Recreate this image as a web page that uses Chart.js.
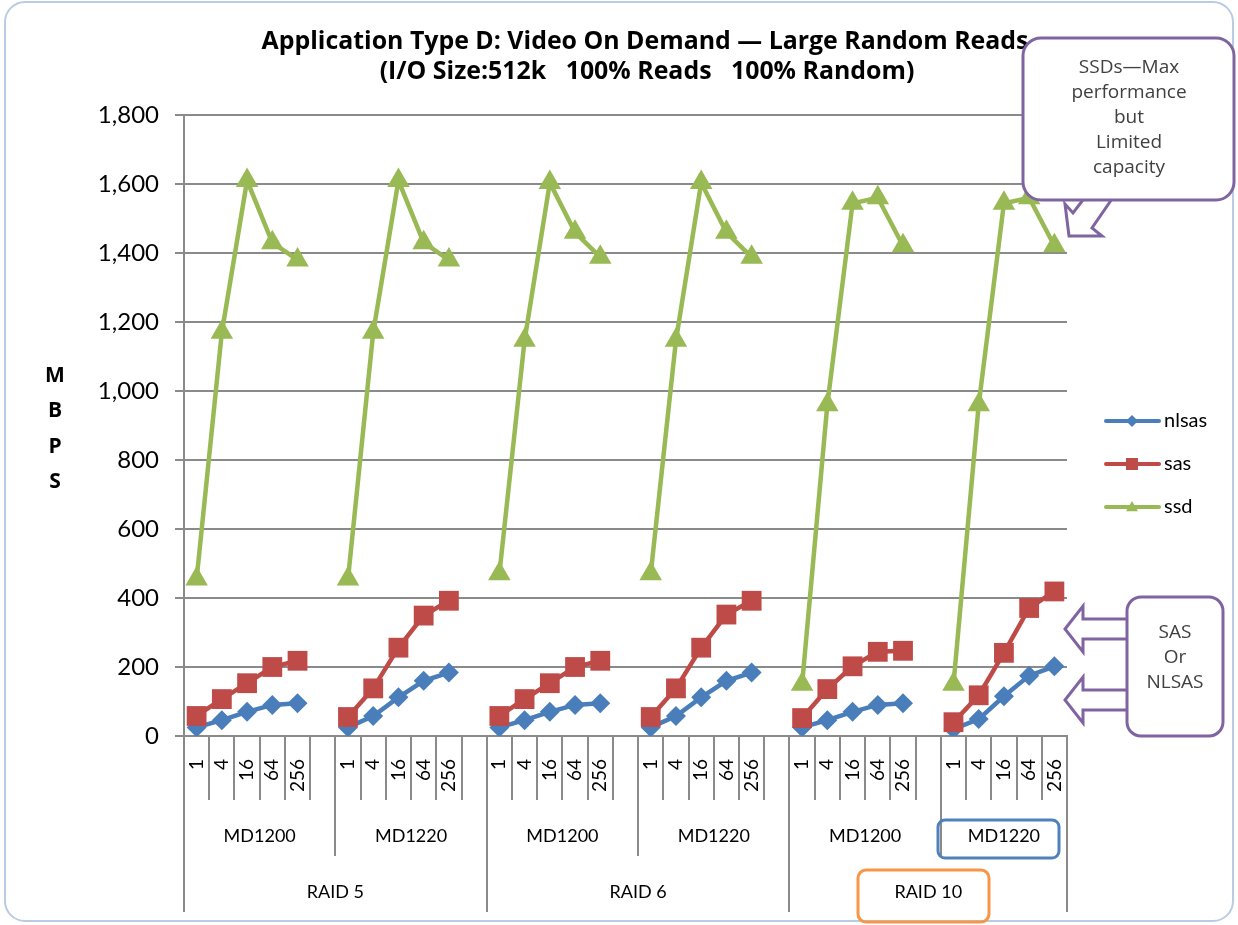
<!DOCTYPE html>
<html>
<head>
<meta charset="utf-8">
<script src="https://cdn.jsdelivr.net/npm/chart.js@4.4.0/dist/chart.umd.min.js"></script>
<style>
  html, body { margin: 0; padding: 0; background: #fff; }
</style>
</head>
<body>
<canvas id="chart" width="1238" height="925"></canvas>
<script>
// categories (three level axis)
const queueDepths = ['1', '4', '16', '64', '256'];
const enclosures = ['MD1200', 'MD1220'];
const raidLevels = ['RAID 5', 'RAID 6', 'RAID 10'];

// MBPS, 5 queue depths per enclosure group
const nlsas = [25, 46, 70, 90, 95,   25, 58, 112, 160, 184,   25, 46, 70, 90, 95,   25, 58, 112, 160, 184,   25, 46, 70, 90, 95,   20, 49, 115, 175, 202];
const sas   = [58, 107, 153, 200, 218,   55, 138, 256, 349, 392,   58, 107, 153, 200, 218,   55, 138, 256, 352, 392,   52, 136, 202, 244, 247,   40, 118, 241, 371, 419];
const ssd   = [455, 1170, 1610, 1430, 1380,   455, 1170, 1610, 1430, 1380,   470, 1147, 1604, 1460, 1388,   470, 1147, 1604, 1460, 1388,   150, 960, 1544, 1560, 1421,   150, 960, 1544, 1560, 1421];

const yTicks = [0, 200, 400, 600, 800, 1000, 1200, 1400, 1600, 1800];
const seriesNames = ['nlsas', 'sas', 'ssd'];
const titleLines = ['Application Type D: Video On Demand \u2014 Large Random Reads', '(I/O Size:512k   100% Reads   100% Random)'];
const yTitle = ['M', 'B', 'P', 'S'];
const ssdNote = ['SSDs\u2014Max', 'performance', 'but', 'Limited', 'capacity'];
const hddNote = ['SAS', 'Or', 'NLSAS'];

// the sheet has one empty row after every group except the last
const labels = [];
const slotIndex = [];   // value index for each slot, -1 for blank
const groupStart = [];  // first slot of each enclosure group
let k = 0;
raidLevels.forEach((r, ri) => enclosures.forEach((e, ei) => {
  groupStart.push(labels.length);
  queueDepths.forEach(q => { labels.push(q); slotIndex.push(k++); });
  if (!(ri === raidLevels.length - 1 && ei === enclosures.length - 1)) {
    labels.push('');
    slotIndex.push(-1);
  }
}));
groupStart.push(labels.length);
const expand = arr => slotIndex.map(i => (i < 0 ? null : arr[i]));

const colors = ['#4a7ebb', '#be4b48', '#98b954'];
const styles = ['rectRot', 'rect', 'triangle'];
const radii = [10, 14, 13];
const purple = '#8064a2';
const gridGray = '#8a8a8a';

function rr(ctx, x, y, w, h, r) {
  ctx.beginPath();
  ctx.moveTo(x + r, y);
  ctx.arcTo(x + w, y, x + w, y + h, r);
  ctx.arcTo(x + w, y + h, x, y + h, r);
  ctx.arcTo(x, y + h, x, y, r);
  ctx.arcTo(x, y, x + w, y, r);
  ctx.closePath();
}

function poly(ctx, pts) {
  ctx.beginPath();
  ctx.moveTo(pts[0][0], pts[0][1]);
  pts.slice(1).forEach(p => ctx.lineTo(p[0], p[1]));
  ctx.closePath();
}

function marker(ctx, style, x, y, r) {
  ctx.beginPath();
  if (style === 'rectRot') {
    ctx.moveTo(x, y - r); ctx.lineTo(x + r, y); ctx.lineTo(x, y + r); ctx.lineTo(x - r, y);
  } else if (style === 'rect') {
    ctx.rect(x - r, y - r, 2 * r, 2 * r);
  } else {
    ctx.moveTo(x, y - r); ctx.lineTo(x + r, y + r * 0.7); ctx.lineTo(x - r, y + r * 0.7);
  }
  ctx.closePath();
  ctx.fill();
}

const decor = {
  id: 'decor',
  beforeDraw(chart) {
    const ctx = chart.ctx;
    ctx.save();
    ctx.fillStyle = '#fff';
    ctx.fillRect(0, 0, chart.width, chart.height);
    ctx.restore();
  },
  afterDraw(chart) {
    const ctx = chart.ctx;
    const area = chart.chartArea;
    const xs = chart.scales.x;
    ctx.save();

    // outer frame
    ctx.strokeStyle = '#b8cce4';
    ctx.lineWidth = 2;
    rr(ctx, 5, 2, 1228, 919, 20);
    ctx.stroke();

    // title
    ctx.fillStyle = '#000';
    ctx.textAlign = 'center';
    ctx.textBaseline = 'middle';
    ctx.font = 'bold 20px "Open Sans"';
    const fs = 20 * 766 / ctx.measureText(titleLines[0]).width;
    ctx.font = 'bold ' + fs.toFixed(1) + 'px "Open Sans"';
    ctx.fillText(titleLines[0], 645, 42);
    ctx.fillText(titleLines[1], 647, 72);

    // y title, stacked letters
    ctx.font = 'bold 21px "Open Sans"';
    yTitle.forEach((ch, i) => ctx.fillText(ch, 55, 376 + i * 35.5));

    // multi-level x axis
    const w = xs.getPixelForValue(1) - xs.getPixelForValue(0);
    const edge = i => xs.getPixelForValue(0) - w / 2 + i * w;
    const n = labels.length;
    ctx.strokeStyle = gridGray;
    ctx.lineWidth = 2;
    for (let i = 0; i <= n; i++) {
      const x = Math.round(edge(i));
      const gi = groupStart.indexOf(i);
      let bottom = 800;
      if (gi >= 0) bottom = gi % 2 === 0 ? 912 : 856;
      ctx.beginPath();
      ctx.moveTo(x, area.bottom);
      ctx.lineTo(x, bottom);
      ctx.stroke();
    }
    ctx.fillStyle = '#000';
    ctx.font = '19px Lato';
    labels.forEach((q, i) => {
      if (!q) return;
      ctx.save();
      ctx.translate(xs.getPixelForValue(i), 759);
      ctx.rotate(-Math.PI / 2);
      ctx.textAlign = 'right';
      ctx.textBaseline = 'middle';
      ctx.fillText(q, 0, 0);
      ctx.restore();
    });
    ctx.font = '18px Lato';
    ctx.textAlign = 'center';
    ctx.textBaseline = 'middle';
    raidLevels.forEach((r, ri) => {
      enclosures.forEach((e, ei) => {
        const g = ri * 2 + ei;
        ctx.fillText(e, (edge(groupStart[g]) + edge(groupStart[g + 1])) / 2, 836);
      });
      ctx.fillText(r, (edge(groupStart[ri * 2]) + edge(groupStart[ri * 2 + 2])) / 2, 892);
    });

    // highlight boxes on the axis
    ctx.lineWidth = 3;
    ctx.strokeStyle = '#4f81bd';
    rr(ctx, 938, 820, 121, 38, 7);
    ctx.stroke();
    ctx.strokeStyle = '#f79646';
    rr(ctx, 858, 870, 131, 52, 8);
    ctx.stroke();

    // legend
    seriesNames.forEach((name, i) => {
      const y = 421 + i * 43;
      ctx.strokeStyle = colors[i];
      ctx.lineWidth = 4;
      ctx.lineCap = 'round';
      ctx.beginPath();
      ctx.moveTo(1106, y);
      ctx.lineTo(1159, y);
      ctx.stroke();
      ctx.fillStyle = colors[i];
      marker(ctx, styles[i], 1132, y, 6);
      ctx.fillStyle = '#000';
      ctx.font = '20px Lato';
      ctx.textAlign = 'left';
      ctx.fillText(name, 1164, y);
    });
    ctx.lineCap = 'butt';

    // callouts
    ctx.strokeStyle = purple;
    ctx.lineWidth = 3;
    ctx.lineJoin = 'miter';
    ctx.fillStyle = '#fff';
    poly(ctx, [[1086, 196], [1073, 213], [1065, 204], [1069, 236], [1102, 236], [1092, 228], [1114, 196]]);
    ctx.fill(); ctx.stroke();
    rr(ctx, 1023, 38, 211, 162, 18);
    ctx.fill(); ctx.stroke();

    [629, 700].forEach(cy => {
      poly(ctx, [[1065, cy], [1083, cy - 23], [1083, cy - 10], [1130, cy - 10], [1130, cy + 10], [1083, cy + 10], [1083, cy + 23]]);
      ctx.fill(); ctx.stroke();
    });
    rr(ctx, 1127, 597, 96, 139, 14);
    ctx.fill(); ctx.stroke();

    ctx.fillStyle = '#404040';
    ctx.font = '19px "Open Sans"';
    ctx.textAlign = 'center';
    ssdNote.forEach((t, i) => ctx.fillText(t, 1129, 68 + i * 25));
    hddNote.forEach((t, i) => ctx.fillText(t, 1175, 633 + i * 25));

    ctx.restore();
  }
};

new Chart(document.getElementById('chart'), {
  type: 'line',
  data: {
    labels: labels,
    datasets: [nlsas, sas, ssd].map((d, i) => ({
      label: seriesNames[i],
      data: expand(d),
      borderColor: colors[i],
      backgroundColor: colors[i],
      borderWidth: 4.5,
      pointStyle: styles[i],
      pointRadius: radii[i],
      pointBorderWidth: 0,
      pointBackgroundColor: colors[i],
      tension: 0,
      spanGaps: false,
      fill: false,
      order: 2 - i
    }))
  },
  options: {
    responsive: false,
    animation: false,
    layout: { padding: { top: 115, right: 171, left: 0, bottom: 0 } },
    plugins: {
      legend: { display: false },
      tooltip: { enabled: false },
      title: { display: false }
    },
    scales: {
      x: {
        offset: true,
        ticks: { display: false },
        grid: { display: false },
        border: { color: gridGray, width: 2 },
        afterFit: s => { s.height = 925 - 736; }
      },
      y: {
        min: 0,
        max: 1800,
        afterBuildTicks: s => { s.ticks = yTicks.map(v => ({ value: v })); },
        ticks: {
          padding: 16,
          color: '#000',
          font: { family: 'Lato', size: 24 },
          callback: v => v.toLocaleString('en-US')
        },
        grid: { color: gridGray, lineWidth: 2, tickLength: 9 },
        border: { color: gridGray, width: 2 },
        afterFit: s => { s.width = 184; }
      }
    }
  },
  plugins: [decor]
});
</script>
</body>
</html>
